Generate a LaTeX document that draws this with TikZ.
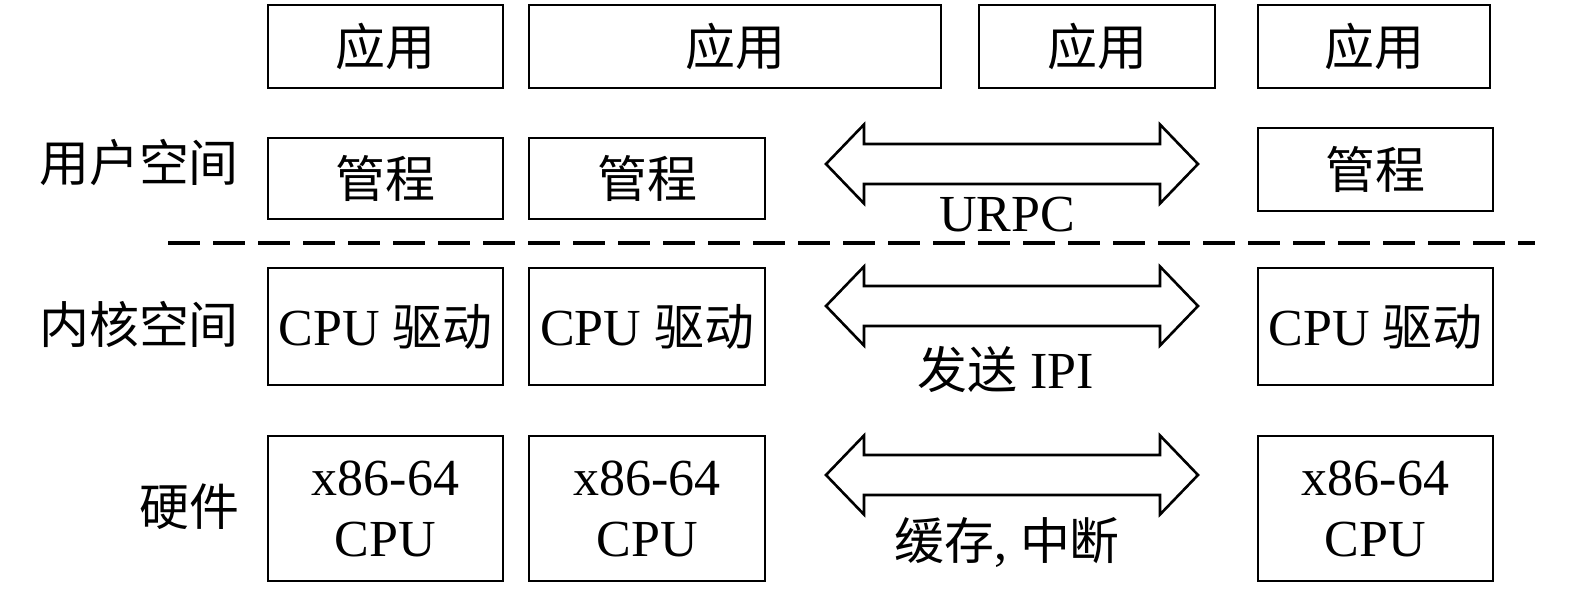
\documentclass[tikz,border=0pt]{standalone}
\usepackage{fontspec}
\usetikzlibrary{calc}
\setmainfont{Liberation Serif}
\newfontfamily\cjk[Scale=0.96]{Noto Sans CJK SC}
\begin{document}
\begin{tikzpicture}[x=1pt,y=-1pt,
  box/.style={draw, line width=2.8pt, rectangle, inner sep=0pt, align=center,
    font=\fontsize{52}{61}\selectfont},
  lab/.style={inner sep=0pt, font=\fontsize{52}{61}\selectfont},
  arr/.style={draw, line width=2.6pt, line join=miter}]
\useasboundingbox (0,0) rectangle (1575,591);
% row 1
\node[box, minimum width=235pt, minimum height=83pt] (a1) at (385.5,46.5) {\cjk 应用};
\node[box, minimum width=412pt, minimum height=83pt] (a2) at (735,46.5) {\cjk 应用};
\node[box, minimum width=236pt, minimum height=83pt] (a3) at (1097,46.5) {\cjk 应用};
\node[box, minimum width=232pt, minimum height=83pt] (a4) at (1374,46.5) {\cjk 应用};
% row 2
\node[box, minimum width=235pt, minimum height=81pt] (m1) at (385.5,178.5) {\cjk 管程};
\node[box, minimum width=236pt, minimum height=81pt] (m2) at (647,178.5) {\cjk 管程};
\node[box, minimum width=235pt, minimum height=83pt] (m4) at (1375.5,169.5) {\cjk 管程};
% row 3
\node[box, minimum width=235pt, minimum height=117pt] (k1) at (385.5,326.5) {CPU {\cjk 驱动}};
\node[box, minimum width=236pt, minimum height=117pt] (k2) at (647,326.5) {CPU {\cjk 驱动}};
\node[box, minimum width=235pt, minimum height=117pt] (k4) at (1375.5,326.5) {CPU {\cjk 驱动}};
% row 4
\node[box, minimum width=235pt, minimum height=145pt] (h1) at (385.5,508.5) {x86-64\\CPU};
\node[box, minimum width=236pt, minimum height=145pt] (h2) at (647,508.5) {x86-64\\CPU};
\node[box, minimum width=235pt, minimum height=145pt] (h4) at (1375.5,508.5) {x86-64\\CPU};
% side labels
\node[lab] (l1) at (139,163) {\cjk 用户空间};
\node[lab] (l2) at (139,324) {\cjk 内核空间};
\node[lab] (l3) at (189,507) {\cjk 硬件};
% dashed separator
\coordinate (d1) at (168,243);
\coordinate (d2) at (1535,243);
\draw[line width=3.2pt, dash pattern=on 32pt off 13pt] (d1) -- (d2);
% double arrows
\foreach \n/\cy in {u/164, i/306, c/475}{
  \coordinate (\n) at (1011.5,\cy);
  \draw[arr] ($(\n)+(-185.5,0)$) -- ++(38,-39.5) -- ++(0,19.5) -- ++(296,0) -- ++(0,-19.5)
    -- ++(38,39.5) -- ++(-38,39.5) -- ++(0,-19.5) -- ++(-296,0) -- ++(0,19.5) -- cycle;
}
\node[lab] (t1) at (1007,215) {URPC};
\node[lab] (t2) at (1006,370) {{\cjk 发送} IPI};
\node[lab] (t3) at (1007,542) {{\cjk 缓存}, {\cjk 中断}};
\end{tikzpicture}
\end{document}
